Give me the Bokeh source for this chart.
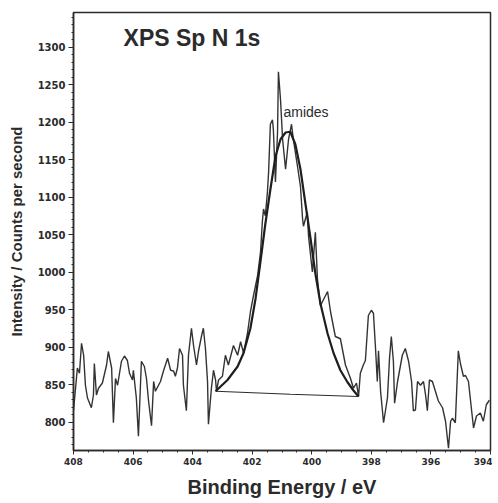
from bokeh.plotting import figure
from bokeh.models import Range1d, Label, FixedTicker
from bokeh.embed import file_html
from bokeh.resources import INLINE

# Raw N 1s spectrum (binding energy in eV, counts per second)
energy = [408.00, 407.87, 407.80, 407.73, 407.66, 407.60, 407.53, 407.40, 407.33, 407.30,
          407.23, 407.16, 407.03, 406.89, 406.83, 406.72, 406.66, 406.59, 406.52, 406.39,
          406.29, 406.19, 406.12, 406.02, 405.99, 405.89, 405.82, 405.72, 405.62, 405.55,
          405.48, 405.38, 405.31, 405.25, 405.08, 404.98, 404.84, 404.74, 404.64, 404.58,
          404.51, 404.44, 404.34, 404.31, 404.21, 404.14, 404.04, 403.97, 403.87, 403.80,
          403.70, 403.64, 403.57, 403.50, 403.47, 403.37, 403.30, 403.23, 403.20, 403.13,
          403.00, 402.90, 402.80, 402.63, 402.49, 402.39, 402.29, 402.16, 402.06, 401.96,
          401.82, 401.72, 401.66, 401.62, 401.56, 401.49, 401.45, 401.39, 401.32, 401.29,
          401.22, 401.15, 401.12, 401.05, 400.98, 400.88, 400.78, 400.68, 400.62, 400.48,
          400.38, 400.31, 400.28, 400.15, 400.11, 399.98, 399.88, 399.81, 399.71, 399.47,
          399.37, 399.21, 399.04, 398.87, 398.70, 398.60, 398.50, 398.43, 398.37, 398.27,
          398.20, 398.10, 398.00, 397.93, 397.86, 397.80, 397.76, 397.69, 397.59, 397.46,
          397.39, 397.33, 397.26, 397.22, 397.12, 396.96, 396.86, 396.75, 396.65, 396.59,
          396.52, 396.45, 396.35, 396.25, 396.18, 396.12, 396.05, 395.95, 395.85, 395.75,
          395.61, 395.51, 395.41, 395.34, 395.28, 395.18, 395.08, 395.01, 394.91, 394.84,
          394.74, 394.57, 394.47, 394.34, 394.24, 394.14, 394.04]
counts = [815, 872, 865, 905, 889, 849, 832, 819, 836, 878,
          836, 845, 852, 876, 894, 872, 799, 858, 849, 881,
          888, 882, 865, 856, 869, 832, 781, 881, 874, 858,
          828, 795, 854, 841, 854, 868, 885, 869, 868, 861,
          872, 898, 889, 849, 815, 889, 925, 902, 876, 895,
          915, 925, 898, 854, 797, 845, 869, 856, 841, 856,
          861, 889, 876, 902, 889, 907, 892, 918, 947, 968,
          995, 1027, 1067, 1084, 1075, 1106, 1133, 1197, 1203, 1190,
          1120, 1186, 1267, 1230, 1177, 1137, 1177, 1197, 1177, 1141,
          1114, 1071, 1061, 1080, 1048, 1000, 1053, 991, 955, 974,
          947, 914, 911, 876, 858, 845, 852, 834, 865, 876,
          882, 942, 949, 945, 898, 854, 895, 841, 799, 832,
          885, 914, 881, 825, 854, 889, 898, 881, 854, 815,
          816, 854, 849, 854, 836, 815, 856, 854, 841, 828,
          819, 801, 765, 801, 805, 799, 895, 878, 861, 862,
          854, 792, 808, 812, 801, 823, 829]

# Fitted amide component
fit_energy = [403.23, 402.83, 402.49, 402.29, 402.06, 401.89, 401.72, 401.56, 401.39, 401.22,
              401.05, 400.88, 400.72, 400.55, 400.38, 400.21, 400.04, 399.88, 399.71, 399.47,
              399.27, 399.04, 398.80, 398.60, 398.43]
fit_counts = [841, 856, 874, 892, 925, 964, 1015, 1064, 1110, 1154,
              1177, 1186, 1187, 1170, 1137, 1090, 1044, 998, 958, 918,
              892, 869, 853, 842, 834]

# Background line
base_energy = [403.23, 400.72, 398.43]
base_counts = [841, 837, 834]

x_major = [408, 406, 404, 402, 400, 398, 396, 394]
x_minor = [394 + 0.5 * i for i in range(29)]
y_major = [800, 850, 900, 950, 1000, 1050, 1100, 1150, 1200, 1250, 1300]
y_minor = list(range(770, 1341, 10))

INK = "#2b2b2b"

p = figure(width=492, height=500, output_backend="svg", toolbar_location=None,
           x_range=Range1d(408, 394), y_range=Range1d(762, 1346),
           min_border_left=73, min_border_right=2, min_border_top=12, min_border_bottom=47)
p.grid.visible = False
p.background_fill_color = "white"
p.border_fill_color = "white"
p.outline_line_color = INK
p.outline_line_width = 1.5

p.xaxis.ticker = FixedTicker(ticks=x_major, minor_ticks=x_minor)
p.yaxis.ticker = FixedTicker(ticks=y_major, minor_ticks=y_minor)

for ax in (p.xaxis[0], p.yaxis[0]):
    ax.axis_line_color = INK
    ax.axis_line_width = 1.5
    ax.major_tick_line_color = INK
    ax.minor_tick_line_color = INK
    ax.major_tick_in = 0
    ax.minor_tick_in = 0
    ax.major_label_text_color = INK
    ax.major_label_text_font = "DejaVu Sans"
    ax.major_label_text_font_style = "bold"
    ax.axis_label_text_font = "Liberation Sans"
    ax.axis_label_text_font_style = "bold"
    ax.axis_label_text_color = INK

p.xaxis.major_tick_out = 4
p.xaxis.minor_tick_out = 2
p.xaxis.major_label_standoff = 3
p.xaxis.major_label_text_font_size = "9px"
p.xaxis.axis_label = "Binding Energy / eV"
p.xaxis.axis_label_text_font_size = "20px"
p.xaxis.axis_label_standoff = 8

p.yaxis.major_tick_out = 5
p.yaxis.minor_tick_out = 2
p.yaxis.major_label_standoff = 3
p.yaxis.major_label_text_font_size = "10px"
p.yaxis.axis_label = "Intensity / Counts per second"
p.yaxis.axis_label_text_font_size = "15px"
p.yaxis.axis_label_standoff = 10

p.line(energy, counts, line_color="#333333", line_width=1.4)
p.line(fit_energy, fit_counts, line_color="#1e1e1e", line_width=2.2)
p.line(base_energy, base_counts, line_color="#2b2b2b", line_width=1.2)

p.add_layout(Label(x=406.32, y=1312, text="XPS Sp N 1s", text_font="Liberation Sans",
                   text_font_style="bold", text_font_size="23px", text_color=INK,
                   text_baseline="alphabetic"))
p.add_layout(Label(x=400.95, y=1214, text="amides", text_font="Liberation Sans",
                   text_font_size="14px", text_color=INK, text_baseline="alphabetic"))

open("out.html", "w").write(file_html(p, INLINE))
